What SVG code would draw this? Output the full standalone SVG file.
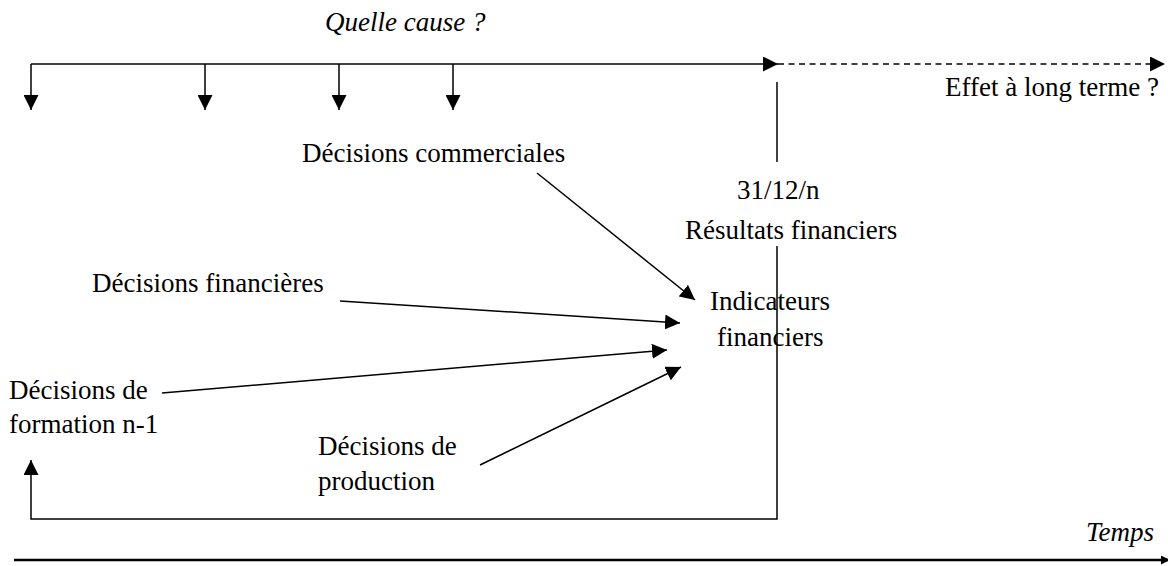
<svg xmlns="http://www.w3.org/2000/svg" width="1168" height="566" viewBox="0 0 1168 566">
  <style>
    .t { font-family: "Liberation Serif", "Times New Roman", serif; font-size: 27px; fill: #000; }
    .i { font-style: italic; }
    .ln { stroke: #000; stroke-width: 1.5; fill: none; }
    .dash { stroke-dasharray: 6 4.5; }
    .axis { stroke: #000; stroke-width: 2.6; fill: none; }
  </style>
  <defs>
    <marker id="ah" viewBox="0 0 10 10" refX="10" refY="5" markerUnits="userSpaceOnUse" markerWidth="15" markerHeight="15" orient="auto">
      <path d="M0,0 L10,5 L0,10 z" fill="#000"/>
    </marker>
    <marker id="ahs" viewBox="0 0 10 10" refX="10" refY="5" markerUnits="userSpaceOnUse" markerWidth="10" markerHeight="9" orient="auto">
      <path d="M0,0 L10,5 L0,10 z" fill="#000"/>
    </marker>
  </defs>

  <g id="connectors">
    <!-- upper timeline with drops -->
    <line class="ln" x1="31" y1="64" x2="778" y2="64" marker-end="url(#ah)"/>
    <line class="ln dash" x1="778" y1="64" x2="1165" y2="64" marker-end="url(#ah)"/>
    <line class="ln" x1="31" y1="64" x2="31" y2="110" marker-end="url(#ah)"/>
    <line class="ln" x1="205" y1="64" x2="205" y2="110" marker-end="url(#ah)"/>
    <line class="ln" x1="339" y1="64" x2="339" y2="110" marker-end="url(#ah)"/>
    <line class="ln" x1="453" y1="64" x2="453" y2="110" marker-end="url(#ah)"/>
    <!-- year-end marker and feedback loop -->
    <line class="ln" x1="777" y1="82" x2="777" y2="162"/>
    <polyline class="ln" points="777,246 777,519 31,519 31,460" marker-end="url(#ah)"/>
    <!-- decisions converging on indicators -->
    <line class="ln" x1="537" y1="173" x2="695" y2="300" marker-end="url(#ah)"/>
    <line class="ln" x1="340" y1="301" x2="680" y2="323" marker-end="url(#ah)"/>
    <line class="ln" x1="162" y1="393" x2="667" y2="350" marker-end="url(#ah)"/>
    <line class="ln" x1="480" y1="465" x2="681" y2="367" marker-end="url(#ah)"/>
    <!-- time axis -->
    <line class="axis" x1="14" y1="560" x2="1170" y2="560" marker-end="url(#ahs)"/>
  </g>

  <g id="cause"><text class="t i" x="325" y="31" font-size="26">Quelle cause ?</text></g>
  <g id="effet"><text class="t" x="945" y="96">Effet à long terme ?</text></g>
  <g id="commerciales"><text class="t" x="302" y="162">Décisions commerciales</text></g>
  <g id="resultats">
    <text class="t" x="737" y="199" font-size="30">31/12/n</text>
    <text class="t" x="685" y="239">Résultats financiers</text>
  </g>
  <g id="financieres"><text class="t" x="92" y="292">Décisions financières</text></g>
  <g id="indicateurs">
    <text class="t" x="710" y="310">Indicateurs</text>
    <text class="t" x="717" y="346">financiers</text>
  </g>
  <g id="formation">
    <text class="t" x="9" y="399">Décisions de</text>
    <text class="t" x="9" y="433">formation n-1</text>
  </g>
  <g id="production">
    <text class="t" x="318" y="455">Décisions de</text>
    <text class="t" x="318" y="490">production</text>
  </g>
  <g id="temps"><text class="t i" x="1086" y="541" font-size="25">Temps</text></g>
</svg>
